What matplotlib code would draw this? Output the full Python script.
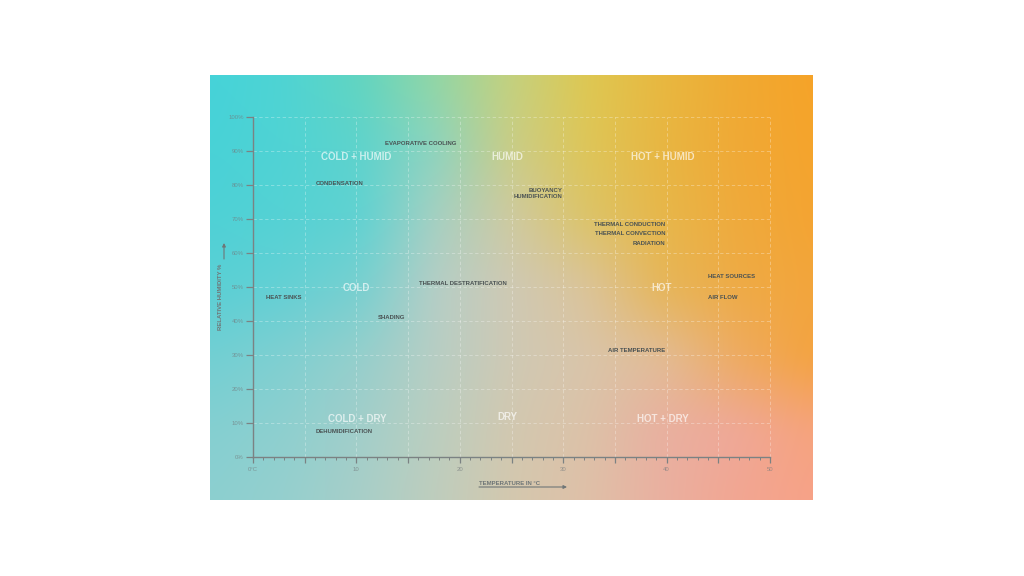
import numpy as np
import matplotlib
matplotlib.use('Agg')
import matplotlib.pyplot as plt
from matplotlib.colors import to_rgb
from matplotlib.ticker import MultipleLocator

# ---------------- data ----------------
region_labels = ['COLD + HUMID', 'HUMID', 'HOT + HUMID',
                 'COLD', 'HOT',
                 'COLD + DRY', 'DRY', 'HOT + DRY']
region_temp = [10.0, 24.6, 39.6, 10.0, 39.5, 10.1, 24.6, 39.6]
region_hum = [88.2, 88.2, 88.2, 49.7, 49.7, 11.3, 11.8, 11.3]

left_labels = ['EVAPORATIVE COOLING', 'CONDENSATION', 'HEAT SINKS',
               'THERMAL DESTRATIFICATION', 'SHADING', 'DEHUMIDIFICATION',
               'HEAT SOURCES', 'AIR FLOW']
left_temp = [12.8, 6.1, 1.3, 16.1, 12.1, 6.1, 44.0, 44.0]
left_hum = [92.1, 80.5, 46.8, 51.0, 41.1, 7.6, 53.2, 46.8]

right_labels = ['BUOYANCY', 'HUMIDIFICATION', 'THERMAL CONDUCTION',
                'THERMAL CONVECTION', 'RADIATION', 'AIR TEMPERATURE']
right_temp = [29.9, 29.9, 39.9, 39.9, 39.9, 39.9]
right_hum = [78.5, 76.5, 68.4, 65.6, 62.7, 31.4]

x_ticks = [0, 5, 10, 15, 20, 25, 30, 35, 40, 45, 50]
x_tick_labels = ['0°C', '', '10', '', '20', '', '30', '', '40', '', '50']
y_ticks = [0, 10, 20, 30, 40, 50, 60, 70, 80, 90, 100]
y_tick_labels = ['0%', '10%', '20%', '30%', '40%', '50%', '60%', '70%', '80%', '90%', '100%']

x_label = 'TEMPERATURE IN °C'
y_label = 'RELATIVE HUMIDITY %'

# background colour field (rows top->bottom, cols left->right)
grad_rows = [
    ['#45d3d9', '#4fd4d3', '#62d5c0', '#93d6a4', '#c4d17e', '#dec852', '#e8b840', '#f0aa32', '#f6a328'],
    ['#48d2d7', '#50d3d4', '#5ed3cc', '#8ed4be', '#cacd86', '#dec658', '#e8b642', '#f0a936', '#f5a42c'],
    ['#4ed1d6', '#55d2d4', '#60d2d2', '#a6d0c2', '#cfcaa0', '#dcc468', '#e7b74a', '#efaa3c', '#f4a432'],
    ['#5ad0d5', '#64d0d4', '#78d0d0', '#b6cec6', '#cfc9b4', '#dbc49a', '#e6b65a', '#eeab46', '#f3a53c'],
    ['#72cfd3', '#80cfd1', '#96cfcc', '#b8cec4', '#cfc9b4', '#d9c5aa', '#e2bc96', '#eeab62', '#f4a340'],
    ['#84cfd1', '#8ecfcf', '#a2cfca', '#bccebf', '#d2c8b0', '#dcc2a8', '#e9b0a0', '#efa898', '#f6a37c'],
    ['#8ccfd0', '#96cfce', '#a8cfc8', '#bfcdbd', '#d4c8ae', '#dfc0a8', '#eab0a0', '#f2a692', '#f7a288'],
]

# ---------------- figure ----------------
W, H = 1024, 576
fig = plt.figure(figsize=(10.24, 5.76), dpi=100)
fig.patch.set_facecolor('white')
plt.rcParams['font.family'] = ['Liberation Sans', 'DejaVu Sans']


def fx(x):
    return x / W


def fy(y):
    return 1 - y / H


# gradient panel
arr = np.array([[to_rgb(c) for c in row] for row in grad_rows])
nr, nc = arr.shape[:2]
ph, pw = 425, 603
ys = np.linspace(0, nr - 1, ph)
xs = np.linspace(0, nc - 1, pw)
y0 = np.clip(np.floor(ys).astype(int), 0, nr - 2)
x0 = np.clip(np.floor(xs).astype(int), 0, nc - 2)
ty = (ys - y0)[:, None, None]
tx = (xs - x0)[None, :, None]
img = (arr[y0][:, x0] * (1 - ty) * (1 - tx) + arr[y0][:, x0 + 1] * (1 - ty) * tx
       + arr[y0 + 1][:, x0] * ty * (1 - tx) + arr[y0 + 1][:, x0 + 1] * ty * tx)


def box_blur(a, r, axis):
    pad = [(0, 0)] * a.ndim
    pad[axis] = (r + 1, r)
    p = np.pad(a, pad, mode='edge')
    c = np.cumsum(p, axis=axis)
    n = a.shape[axis]
    hi = np.take(c, np.arange(2 * r + 1, 2 * r + 1 + n), axis=axis)
    lo = np.take(c, np.arange(0, n), axis=axis)
    return (hi - lo) / (2 * r + 1)


for _ in range(3):
    img = box_blur(img, 12, 0)
    img = box_blur(img, 12, 1)
img = np.clip(img, 0, 1)

bg = fig.add_axes([fx(210), fy(500), fx(813) - fx(210), fy(75) - fy(500)])
bg.imshow(img, aspect='auto', interpolation='bilinear')
bg.axis('off')

# main axes
ax = fig.add_axes([fx(253), fy(457), fx(770) - fx(253), fy(117) - fy(457)])
ax.patch.set_alpha(0)
ax.set_xlim(0, 50)
ax.set_ylim(0, 100)

axis_col = '#7b8283'
for s in ['top', 'right']:
    ax.spines[s].set_visible(False)
for s in ['left', 'bottom']:
    ax.spines[s].set_color(axis_col)
    ax.spines[s].set_linewidth(1.0)

ax.set_xticks(x_ticks)
ax.set_xticklabels(x_tick_labels)
ax.xaxis.set_minor_locator(MultipleLocator(1))
ax.set_yticks(y_ticks)
ax.set_yticklabels(y_tick_labels)

lab_col = (0.45, 0.48, 0.49, 0.7)
ax.tick_params(axis='x', which='major', direction='out', length=4.0, width=0.9,
               color=axis_col, labelsize=4.3, labelcolor=lab_col, pad=3.5)
ax.tick_params(axis='x', which='minor', direction='out', length=1.8, width=0.7,
               color=axis_col)
ax.tick_params(axis='y', which='major', direction='out', length=5, width=0.9,
               color=axis_col, labelsize=4.3, labelcolor=lab_col, pad=1.5)

ax.grid(True, which='major', color='white', alpha=0.35, linewidth=0.6,
        linestyle=(0, (4, 3)))
for gl in ax.get_xgridlines() + ax.get_ygridlines():
    gl.set_clip_on(False)

for t, x, y in zip(region_labels, region_temp, region_hum):
    ax.text(x, y, t, ha='center', va='center', fontsize=7, fontweight='bold',
            color='white', alpha=0.66)

dark = '#4a5253'
for t, x, y in zip(left_labels, left_temp, left_hum):
    ax.text(x, y, t, ha='left', va='center', fontsize=4.35, fontweight='bold',
            color=dark)
for t, x, y in zip(right_labels, right_temp, right_hum):
    ax.text(x, y, t, ha='right', va='center', fontsize=4.35, fontweight='bold',
            color=dark)

# axis titles with arrows
title_col = '#6f7677'
fig.text(fx(479), fy(483.7), x_label, ha='left', va='center', fontsize=4.3,
         fontweight='bold', color=title_col)
ax.annotate('', xy=(fx(567), fy(487)), xytext=(fx(479), fy(487)),
            xycoords='figure fraction', textcoords='figure fraction',
            arrowprops=dict(arrowstyle='-|>', color=title_col, lw=0.8,
                            mutation_scale=5, shrinkA=0, shrinkB=0))
fig.text(fx(221), fy(296.5), y_label, ha='center', va='center', fontsize=4.3,
         fontweight='bold', color=title_col, rotation=90)
ax.annotate('', xy=(fx(224), fy(243)), xytext=(fx(224), fy(259)),
            xycoords='figure fraction', textcoords='figure fraction',
            arrowprops=dict(arrowstyle='-|>', color=title_col, lw=0.8,
                            mutation_scale=5, shrinkA=0, shrinkB=0))

fig.savefig('out.png', dpi=100, facecolor='white')
